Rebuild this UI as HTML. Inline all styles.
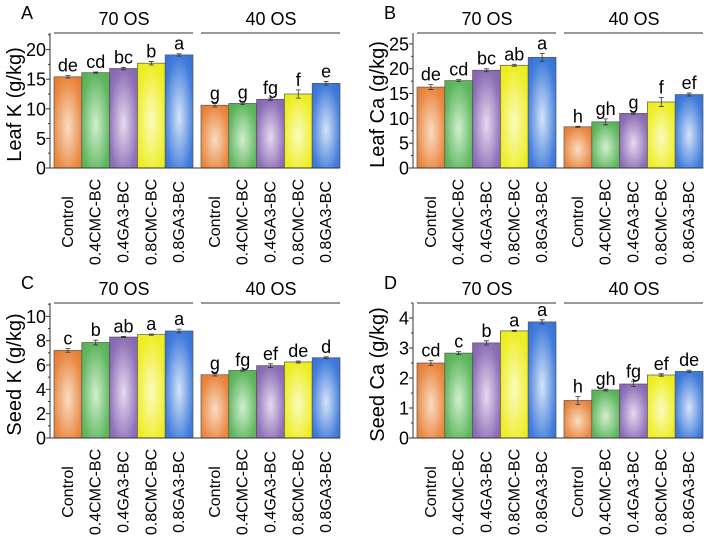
<!DOCTYPE html>
<html><head><meta charset="utf-8"><style>
html,body{margin:0;padding:0;background:#fff;}
svg{display:block;font-family:"Liberation Sans",Arial,sans-serif;}
</style></head><body>
<svg id="chart" width="709" height="536" viewBox="0 0 709 536" xmlns="http://www.w3.org/2000/svg">
<defs>
<radialGradient id="g0" cx="0.5" cy="0.55" r="0.65"><stop offset="0" stop-color="#f9dcc4"/><stop offset="0.8" stop-color="#ea8a44"/><stop offset="1" stop-color="#e67f35"/></radialGradient>
<radialGradient id="g1" cx="0.5" cy="0.55" r="0.65"><stop offset="0" stop-color="#d2eecf"/><stop offset="0.8" stop-color="#62b862"/><stop offset="1" stop-color="#58b258"/></radialGradient>
<radialGradient id="g2" cx="0.5" cy="0.55" r="0.65"><stop offset="0" stop-color="#e6daf0"/><stop offset="0.8" stop-color="#9072b8"/><stop offset="1" stop-color="#8866b2"/></radialGradient>
<radialGradient id="g3" cx="0.5" cy="0.55" r="0.65"><stop offset="0" stop-color="#fbfbc0"/><stop offset="0.8" stop-color="#eeee2a"/><stop offset="1" stop-color="#ecec1c"/></radialGradient>
<radialGradient id="g4" cx="0.5" cy="0.55" r="0.65"><stop offset="0" stop-color="#d6e4f8"/><stop offset="0.8" stop-color="#437edc"/><stop offset="1" stop-color="#3874d6"/></radialGradient>
</defs>
</svg>
<script>
const categories = ["Control","0.4CMC-BC","0.4GA3-BC","0.8CMC-BC","0.8GA3-BC"];
const groups = ["70 OS","40 OS"];
const panelLetters = ["A","B","C","D"];
const yTitles = ["Leaf K (g/kg)","Leaf Ca (g/kg)","Seed K (g/kg)","Seed Ca (g/kg)"];
const yMax = [22.8, 27.2, 11.1, 4.5];
const yStep = [5, 5, 2, 1];
const valA = [[15.4,16.1,16.8,17.7,19.1],[10.6,10.9,11.6,12.5,14.3]];
const errA = [[0.2,0.1,0.2,0.3,0.2],[0.3,0.2,0.2,0.7,0.3]];
const letA = [["de","cd","bc","b","a"],["g","g","fg","f","e"]];
const valB = [[16.3,17.6,19.7,20.7,22.3],[8.3,9.3,11.0,13.3,14.8]];
const errB = [[0.5,0.2,0.3,0.2,0.8],[0.1,0.6,0.2,0.9,0.3]];
const letB = [["de","cd","bc","ab","a"],["h","gh","g","f","ef"]];
const valC = [[7.2,7.85,8.3,8.5,8.8],[5.2,5.55,5.95,6.25,6.6]];
const errC = [[0.15,0.2,0.05,0.05,0.15],[0.1,0.05,0.15,0.08,0.08]];
const letC = [["c","b","ab","a","a"],["g","fg","ef","de","d"]];
const valD = [[2.5,2.83,3.17,3.57,3.87],[1.25,1.6,1.8,2.1,2.22]];
const errD = [[0.08,0.05,0.07,0.02,0.07],[0.13,0.03,0.08,0.04,0.04]];
const letD = [["cd","c","b","a","a"],["h","gh","fg","ef","de"]];

const NS="http://www.w3.org/2000/svg";
const svg=document.getElementById('chart');
function mk(tag,attrs,parent,text){const e=document.createElementNS(NS,tag);for(const k in attrs)e.setAttribute(k,attrs[k]);if(text!==undefined)e.textContent=text;(parent||svg).appendChild(e);return e;}

const panels=[
 {ax:50,base:168,top:33,vals:valA,errs:errA,lets:letA},
 {ax:413,base:168,top:33,vals:valB,errs:errB,lets:letB},
 {ax:50,base:438,top:303,vals:valC,errs:errC,lets:letC},
 {ax:413,base:438,top:303,vals:valD,errs:errD,lets:letD}
];
const bw=27.8;
panels.forEach((p,pi)=>{
  const g=mk('g',{});
  
  
  const y=v=>p.base-(v/yMax[pi])*(p.base-p.top);
  const gx=gi=>p.ax+4+gi*147;
  const bx=(gi,i)=>gx(gi)+i*bw;
  const pl=mk('text',{x:p.ax-29,y:p.top-14,'font-size':18,fill:'#000'},g,panelLetters[pi]);
  
  
  const yt=mk('text',{x:0,y:0,'font-size':20,'text-anchor':'middle',transform:`translate(${p.ax-29},${(p.base+p.top)/2+4}) rotate(-90)`},g,yTitles[pi]);
  
  
  for(let gi=0;gi<2;gi++){
    const ht=mk('text',{x:gx(gi)+70,y:p.top-8,'font-size':18,'text-anchor':'middle'},g,groups[gi]);
    
    
    const hl=mk('line',{x1:gx(gi),x2:gx(gi)+5*bw,y1:p.top,y2:p.top,stroke:'#333','stroke-width':1},g);
    
    
    for(let i=0;i<5;i++){
      const v=p.vals[gi][i],e=p.errs[gi][i],x=bx(gi,i);
      const r=mk('rect',{x:x,y:y(v),width:bw,height:p.base-y(v),fill:`url(#g${i})`,stroke:'#555','stroke-width':0.7},g);
      
      
      const cx=x+bw/2;
      const eb=mk('path',{d:`M${cx},${y(v+e)}V${y(v-e)}M${cx-2.5},${y(v+e)}H${cx+2.5}M${cx-2.5},${y(v-e)}H${cx+2.5}`,stroke:'#333','stroke-width':0.8,fill:'none'},g);
      
      
      const lt=mk('text',{x:cx,y:y(v+e)-4,'font-size':18,'text-anchor':'middle'},g,p.lets[gi][i]);
      
      
      const xl=mk('text',{x:0,y:0,'font-size':16,'text-anchor':'middle',transform:`translate(${cx+5},${p.base+54}) rotate(-90)`},g,categories[i]);
      
      
    }
  }
  const ya=mk('line',{x1:p.ax,x2:p.ax,y1:p.top,y2:p.base,stroke:'#333','stroke-width':1},g);
  
  
  const xa=mk('line',{x1:p.ax,x2:gx(1)+5*bw,y1:p.base,y2:p.base,stroke:'#333','stroke-width':1},g);
  
  
  for(let t=0;t<=yMax[pi]+1e-9;t+=yStep[pi]/2){
    const major=Math.abs(t/yStep[pi]-Math.round(t/yStep[pi]))<1e-6;
    mk('line',{x1:p.ax-(major?4:2),x2:p.ax,y1:y(t),y2:y(t),stroke:'#333','stroke-width':1},g);
    if(major){
      const tl=mk('text',{x:p.ax-4,y:y(t)+6.5,'font-size':18,'text-anchor':'end'},g,String(Math.round(t)));
      
      
    }
  }
});
</script>
</body></html>
